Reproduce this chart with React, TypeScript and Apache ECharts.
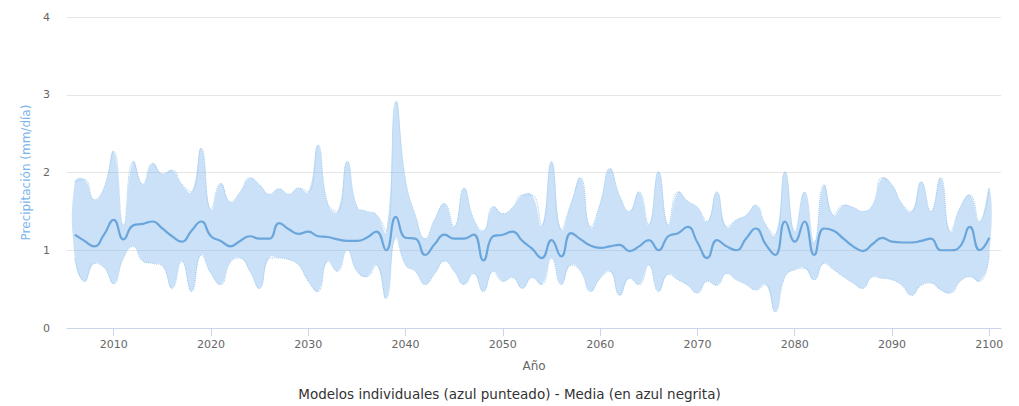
import React, { useEffect, useRef } from "react";
import * as echarts from "echarts";

const years: number[] = [];
for (let y = 2006; y <= 2100; y++) years.push(y);

const meanValues = [
  1.20, 1.12, 1.05, 1.20, 1.39, 1.14, 1.32, 1.34, 1.37, 1.28,
  1.18, 1.11, 1.25, 1.37, 1.18, 1.12, 1.05, 1.12, 1.18, 1.15,
  1.15, 1.35, 1.27, 1.21, 1.24, 1.18, 1.17, 1.14, 1.12, 1.12,
  1.16, 1.24, 1.00, 1.43, 1.16, 1.15, 0.94, 1.08, 1.20, 1.15,
  1.15, 1.20, 0.87, 1.18, 1.20, 1.24, 1.12, 1.02, 0.90, 1.13,
  0.92, 1.22, 1.14, 1.06, 1.03, 1.05, 1.07, 0.99, 1.05, 1.13,
  1.00, 1.18, 1.22, 1.30, 1.10, 0.90, 1.13, 1.05, 1.00, 1.15,
  1.28, 1.08, 0.94, 1.37, 1.11, 1.37, 0.94, 1.28, 1.25, 1.15,
  1.05, 0.99, 1.08, 1.16, 1.11, 1.10, 1.10, 1.12, 1.15, 1.00,
  1.00, 1.05, 1.30, 1.00, 1.16,
];

const upperValues = [
  1.88, 1.91, 1.65, 1.80, 2.27, 1.32, 2.14, 1.85, 2.12, 1.98,
  2.03, 1.85, 1.75, 2.31, 1.52, 1.86, 1.62, 1.75, 1.93, 1.84,
  1.72, 1.79, 1.72, 1.80, 1.75, 2.35, 1.60, 1.50, 2.14, 1.56,
  1.50, 1.46, 1.24, 2.91, 1.90, 1.45, 1.15, 1.40, 1.60, 1.30,
  1.80, 1.40, 1.25, 1.56, 1.47, 1.55, 1.71, 1.71, 1.32, 2.14,
  1.27, 1.60, 1.93, 1.30, 1.60, 2.05, 1.70, 1.50, 1.75, 1.33,
  2.01, 1.33, 1.75, 1.63, 1.55, 1.37, 1.75, 1.30, 1.39, 1.45,
  1.58, 1.33, 1.20, 2.01, 1.24, 1.75, 1.10, 1.84, 1.45, 1.58,
  1.55, 1.50, 1.58, 1.93, 1.84, 1.60, 1.50, 1.88, 1.50, 1.93,
  1.24, 1.55, 1.71, 1.37, 1.80,
];

const lowerValues = [
  0.90, 0.60, 0.83, 0.78, 0.57, 0.90, 1.05, 0.86, 0.83, 0.80,
  0.51, 0.86, 0.47, 0.94, 0.70, 0.56, 0.85, 0.90, 0.73, 0.51,
  0.90, 0.90, 0.88, 0.81, 0.60, 0.47, 0.86, 0.73, 1.00, 0.73,
  0.66, 0.81, 0.38, 1.16, 0.81, 0.73, 0.56, 0.70, 0.86, 0.73,
  0.56, 0.70, 0.47, 0.73, 0.60, 0.65, 0.51, 0.65, 0.56, 0.90,
  0.56, 0.81, 0.73, 0.47, 0.64, 0.73, 0.42, 0.64, 0.56, 0.81,
  0.47, 0.69, 0.62, 0.55, 0.45, 0.60, 0.55, 0.70, 0.62, 0.56,
  0.49, 0.56, 0.21, 0.66, 0.75, 0.77, 0.62, 0.83, 0.75, 0.66,
  0.58, 0.51, 0.66, 0.64, 0.62, 0.55, 0.42, 0.55, 0.58, 0.49,
  0.45, 0.60, 0.66, 0.60, 0.95,
];

const xTickLabels = [2010, 2020, 2030, 2040, 2050, 2060, 2070, 2080, 2090, 2100];
const yTickLabels = [0, 1, 2, 3, 4];

const titleText = "Modelos individuales (azul punteado) - Media (en azul negrita)";
const xAxisName = "Año";
const yAxisName = "Precipitación (mm/día)";

export default function App() {
  const ref = useRef<HTMLDivElement>(null);
  useEffect(() => {
    if (!ref.current) return;
    const chart = echarts.init(ref.current, undefined, { renderer: "svg" });
    const bandData = years.map((y, i) => [y, lowerValues[i], upperValues[i]]);
    const upperData = years.map((y, i) => [y, upperValues[i]]);
    const lowerData = years.map((y, i) => [y, lowerValues[i]]);
    const meanData = years.map((y, i) => [y, meanValues[i]]);
    chart.setOption({
      animation: false,
      textStyle: { fontFamily: "DejaVu Sans, sans-serif" },
      title: {
        text: titleText,
        left: "center",
        top: 382,
        textStyle: { fontSize: 13.5, fontWeight: "normal", color: "#333333" },
      },
      grid: { left: 67, right: 18, top: 17, bottom: 78 },
      xAxis: {
        type: "value",
        min: 2005.2,
        max: 2101.2,
        name: xAxisName,
        nameLocation: "middle",
        nameGap: 32,
        nameTextStyle: { fontSize: 12, color: "#666666" },
        axisLine: { show: true, lineStyle: { color: "#ccd6eb" } },
        axisTick: {
          show: true,
          length: 8,
          customValues: xTickLabels,
          lineStyle: { color: "#ccd6eb" },
        },
        axisLabel: {
          customValues: xTickLabels,
          fontSize: 11,
          color: "#666666",
          margin: 11,
          formatter: (v: number) => String(v),
        },
        splitLine: { show: false },
      },
      yAxis: {
        type: "value",
        min: 0,
        max: 4,
        interval: 1,
        name: yAxisName,
        nameLocation: "middle",
        nameGap: 33,
        nameTextStyle: { fontSize: 12, color: "#7cb5ec" },
        axisLine: { show: false },
        axisTick: { show: false },
        axisLabel: {
          fontSize: 11,
          color: "#666666",
          margin: 17,
          formatter: (v: number) => (yTickLabels.includes(v) ? String(v) : ""),
        },
        splitLine: { lineStyle: { color: "#e6e6e6" } },
      },
      series: [
        {
          type: "custom",
          data: bandData,
          silent: true,
          encode: { x: 0, y: [1, 2] },
          renderItem: (params: any, api: any) => {
            if (params.dataIndex !== 0) return null;
            const top = bandData.map((d) => api.coord([d[0], d[2]]));
            const bottom = bandData.map((d) => api.coord([d[0], d[1]])).reverse();
            return {
              type: "polygon",
              shape: { points: top.concat(bottom), smooth: 0.5 },
              style: { fill: "rgba(124,181,236,0.4)", stroke: "none" },
            };
          },
        },
        {
          type: "line",
          data: upperData,
          smooth: 0.5,
          symbol: "none",
          lineStyle: { color: "#9fcaf0", width: 1, type: "dotted" },
          silent: true,
        },
        {
          type: "line",
          data: lowerData,
          smooth: 0.5,
          symbol: "none",
          lineStyle: { color: "#9fcaf0", width: 1, type: "dotted" },
          silent: true,
        },
        {
          type: "line",
          data: meanData,
          smooth: 0.5,
          symbol: "none",
          lineStyle: { color: "#6aa6dc", width: 2.2 },
        },
      ],
    });
    return () => chart.dispose();
  }, []);
  return (
    <div
      ref={ref}
      style={{ position: "absolute", left: 0, top: 0, width: 1019, height: 406 }}
    />
  );
}
